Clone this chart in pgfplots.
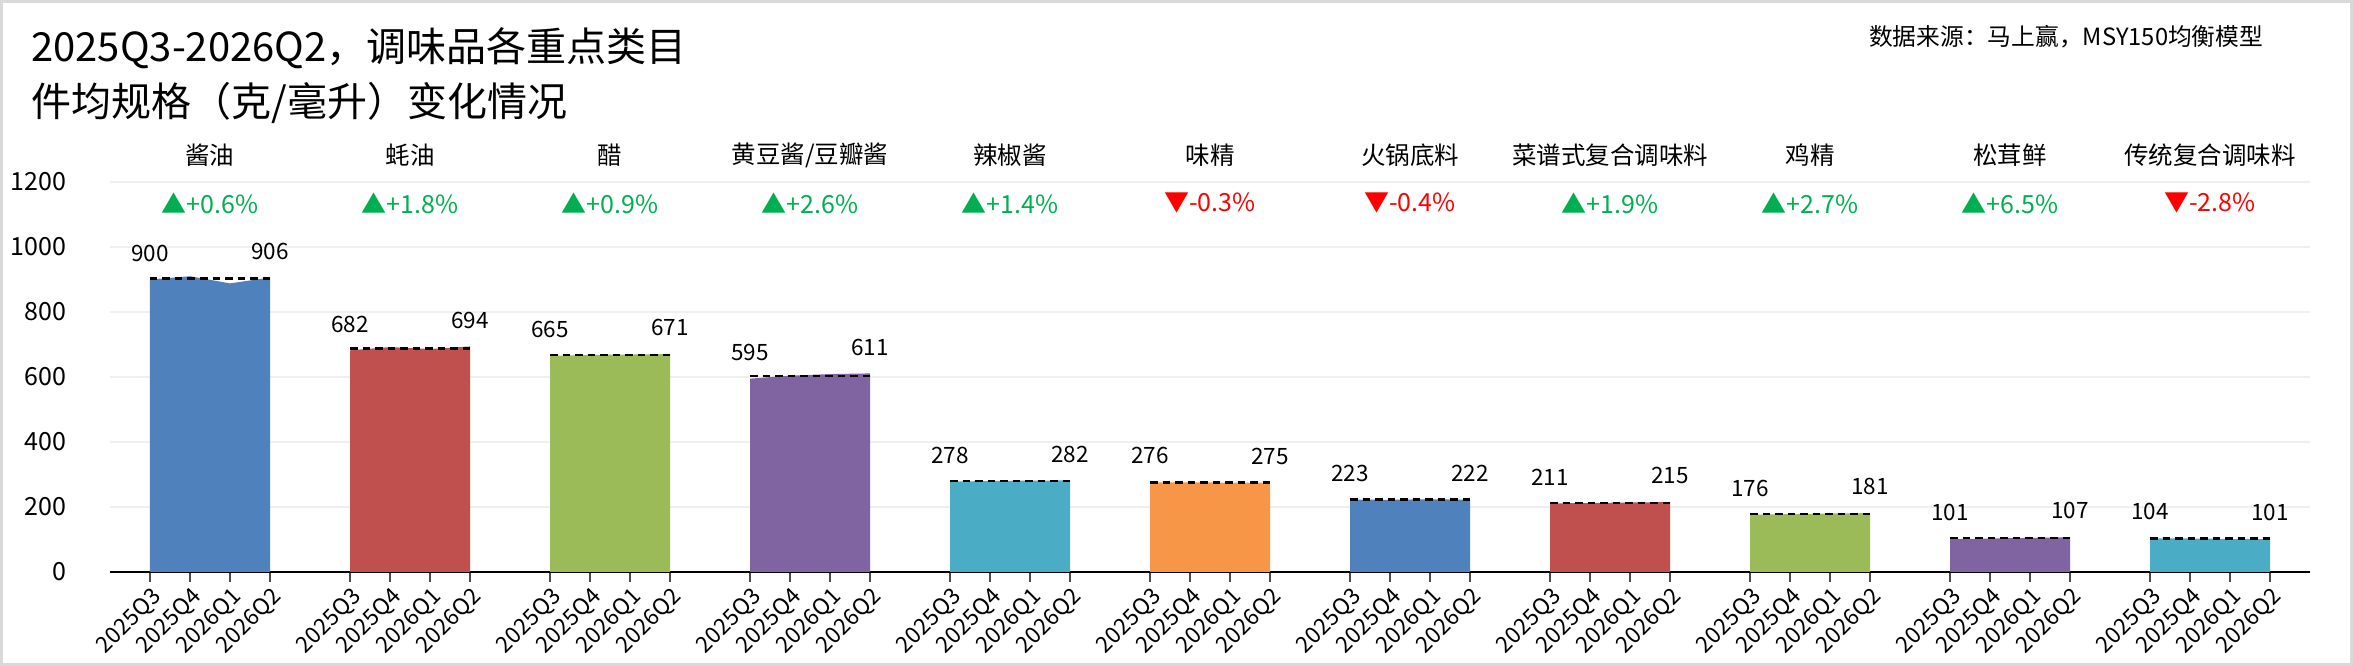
\documentclass[border=0pt]{standalone}
\usepackage{fontspec}
\setmainfont{Noto Sans CJK SC}
\usepackage{pgfplots}
\pgfplotsset{compat=1.18}
\definecolor{cB}{HTML}{4F81BD}
\definecolor{cR}{HTML}{C0504D}
\definecolor{cGr}{HTML}{9BBB59}
\definecolor{cP}{HTML}{8064A2}
\definecolor{cT}{HTML}{4BACC6}
\definecolor{cO}{HTML}{F79646}
\definecolor{up}{HTML}{00B050}
\definecolor{down}{HTML}{FF0000}
\definecolor{gridc}{HTML}{EFEFEF}
\definecolor{framec}{HTML}{D9D9D9}
\tikzset{
  catname/.style={font=\fontsize{9.8}{9.8}\selectfont},
  pct/.style={font=\fontsize{10}{10}\selectfont},
  dl/.style={black, line width=1pt, dash pattern=on 3pt off 2pt},
}
\begin{document}
\begin{tikzpicture}
\path[use as bounding box] (-44pt,-37.6pt) rectangle (897.2pt,228.8pt);
\draw[framec, line width=1.2pt] (-43.4pt,-37pt) rectangle (896.6pt,228.2pt);
\node[anchor=west, font=\fontsize{16}{16}\selectfont] at (-35pt,209.6pt) {2025Q3-2026Q2，调味品各重点类目};
\node[anchor=west, font=\fontsize{16}{16}\selectfont] at (-35pt,187.6pt) {件均规格（克/毫升）变化情况};
\node[anchor=east, font=\fontsize{9.5}{9.5}\selectfont] at (864.8pt,214pt) {数据来源：马上赢，MSY150均衡模型};
\begin{axis}[
  at={(0,0)}, anchor=south west, scale only axis,
  width=880pt, height=156pt,
  xmin=-1, xmax=54, ymin=0, ymax=1200,
  clip=false,
  axis x line*=bottom, axis y line*=left,
  y axis line style={draw=none},
  x axis line style={black, line width=1.1pt, -},
  ytick={0,200,400,600,800,1000,1200},
  ymajorgrids, grid style={gridc, line width=0.8pt},
  ytick style={draw=none},
  yticklabel style={font=\fontsize{10}{10}\selectfont, xshift=-10pt},
  /pgf/number format/assume math mode=true,
  /pgf/number format/set thousands separator={},
  xtick={0,1,2,3,5,6,7,8,10,11,12,13,15,16,17,18,20,21,22,23,25,26,27,28,30,31,32,33,35,36,37,38,40,41,42,43,45,46,47,48,50,51,52,53},
  xticklabels={2025Q3,2025Q4,2026Q1,2026Q2,2025Q3,2025Q4,2026Q1,2026Q2,2025Q3,2025Q4,2026Q1,2026Q2,2025Q3,2025Q4,2026Q1,2026Q2,2025Q3,2025Q4,2026Q1,2026Q2,2025Q3,2025Q4,2026Q1,2026Q2,2025Q3,2025Q4,2026Q1,2026Q2,2025Q3,2025Q4,2026Q1,2026Q2,2025Q3,2025Q4,2026Q1,2026Q2,2025Q3,2025Q4,2026Q1,2026Q2,2025Q3,2025Q4,2026Q1,2026Q2},
  tick align=outside, major tick length=4pt,
  xtick style={black!70, line width=0.6pt},
  xticklabel style={rotate=45, anchor=north east, font=\fontsize{9}{9}\selectfont, inner sep=1pt},
]
% areas
\addplot[draw=none, fill=cB]  coordinates {(0,900)(1,910)(2,888)(3,906)} \closedcycle;
\addplot[draw=none, fill=cR]  coordinates {(5,682)(6,692)(7,686)(8,694)} \closedcycle;
\addplot[draw=none, fill=cGr] coordinates {(10,665)(11,668)(12,669)(13,671)} \closedcycle;
\addplot[draw=none, fill=cP]  coordinates {(15,595)(16,604)(17,609)(18,611)} \closedcycle;
\addplot[draw=none, fill=cT]  coordinates {(20,278)(21,280)(22,281)(23,282)} \closedcycle;
\addplot[draw=none, fill=cO]  coordinates {(25,276)(26,276)(27,275)(28,275)} \closedcycle;
\addplot[draw=none, fill=cB]  coordinates {(30,223)(31,222)(32,224)(33,222)} \closedcycle;
\addplot[draw=none, fill=cR]  coordinates {(35,211)(36,212)(37,214)(38,215)} \closedcycle;
\addplot[draw=none, fill=cGr] coordinates {(40,176)(41,178)(42,180)(43,181)} \closedcycle;
\addplot[draw=none, fill=cP]  coordinates {(45,101)(46,103)(47,105)(48,107)} \closedcycle;
\addplot[draw=none, fill=cT]  coordinates {(50,104)(51,103)(52,102)(53,101)} \closedcycle;
% dashed reference lines
\addplot[dl, mark=none] coordinates {(0,903)(3,903)};
\addplot[dl, mark=none] coordinates {(5,688)(8,688)};
\addplot[dl, mark=none] coordinates {(10,668)(13,668)};
\addplot[dl, mark=none] coordinates {(15,603)(18,603)};
\addplot[dl, mark=none] coordinates {(20,280)(23,280)};
\addplot[dl, mark=none] coordinates {(25,275.5)(28,275.5)};
\addplot[dl, mark=none] coordinates {(30,222.5)(33,222.5)};
\addplot[dl, mark=none] coordinates {(35,213)(38,213)};
\addplot[dl, mark=none] coordinates {(40,178.5)(43,178.5)};
\addplot[dl, mark=none] coordinates {(45,104)(48,104)};
\addplot[dl, mark=none] coordinates {(50,102.5)(53,102.5)};
% value labels
\addplot[draw=none, mark=none, nodes near coords, point meta=explicit symbolic,
  nodes near coords style={font=\fontsize{9}{9}\selectfont, anchor=south, inner sep=0pt, yshift=7pt}]
  coordinates {(0,900)[900] (3,906)[906] (5,682)[682] (8,694)[694] (10,665)[665] (13,671)[671]
  (15,595)[595] (18,611)[611] (20,278)[278] (23,282)[282] (25,276)[276] (28,275)[275]
  (30,223)[223] (33,222)[222] (35,211)[211] (38,215)[215] (40,176)[176] (43,181)[181]
  (45,101)[101] (48,107)[107] (50,104)[104] (53,101)[101]};
% category names
\node[catname] at (axis cs:1.5,1283) {酱油};
\node[catname] at (axis cs:6.5,1283) {蚝油};
\node[catname] at (axis cs:11.5,1283) {醋};
\node[catname] at (axis cs:16.5,1283) {黄豆酱/豆瓣酱};
\node[catname] at (axis cs:21.5,1283) {辣椒酱};
\node[catname] at (axis cs:26.5,1283) {味精};
\node[catname] at (axis cs:31.5,1283) {火锅底料};
\node[catname] at (axis cs:36.5,1283) {菜谱式复合调味料};
\node[catname] at (axis cs:41.5,1283) {鸡精};
\node[catname] at (axis cs:46.5,1283) {松茸鲜};
\node[catname] at (axis cs:51.5,1283) {传统复合调味料};
% changes
\node[pct, text=up]   at (axis cs:1.5,1135) {▲+0.6\%};
\node[pct, text=up]   at (axis cs:6.5,1135) {▲+1.8\%};
\node[pct, text=up]   at (axis cs:11.5,1135) {▲+0.9\%};
\node[pct, text=up]   at (axis cs:16.5,1135) {▲+2.6\%};
\node[pct, text=up]   at (axis cs:21.5,1135) {▲+1.4\%};
\node[pct, text=down] at (axis cs:26.5,1135) {▼-0.3\%};
\node[pct, text=down] at (axis cs:31.5,1135) {▼-0.4\%};
\node[pct, text=up]   at (axis cs:36.5,1135) {▲+1.9\%};
\node[pct, text=up]   at (axis cs:41.5,1135) {▲+2.7\%};
\node[pct, text=up]   at (axis cs:46.5,1135) {▲+6.5\%};
\node[pct, text=down] at (axis cs:51.5,1135) {▼-2.8\%};
\end{axis}
\end{tikzpicture}
\end{document}
